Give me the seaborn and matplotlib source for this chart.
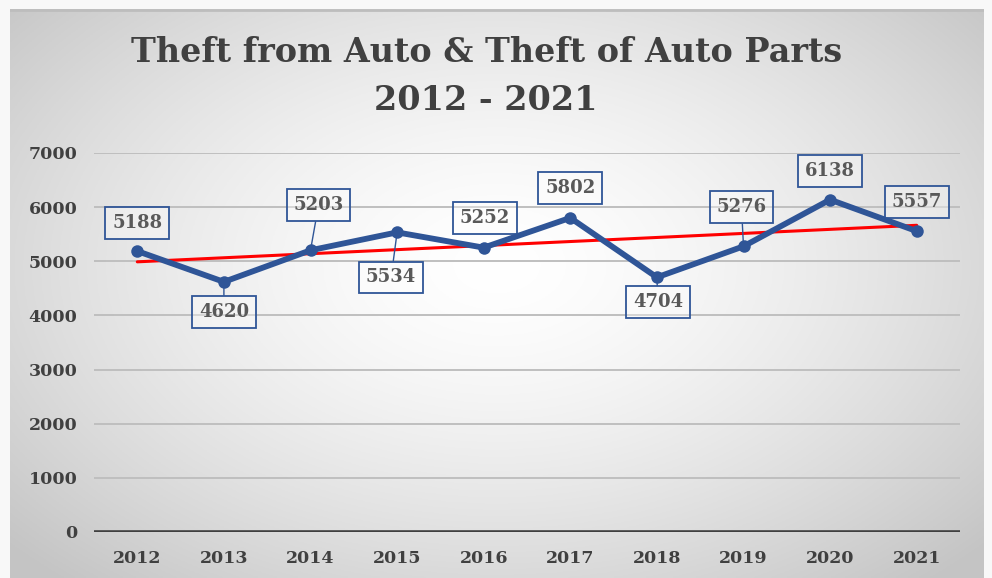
import numpy as np
import pandas as pd
import matplotlib
matplotlib.use("Agg")
import matplotlib.pyplot as plt
import seaborn as sns

# Yearly counts of theft from auto & theft of auto parts
years = ["2012", "2013", "2014", "2015", "2016", "2017", "2018", "2019", "2020", "2021"]
counts = [5188, 4620, 5203, 5534, 5252, 5802, 4704, 5276, 6138, 5557]

# label offsets (pixels) relative to each point, and whether a leader line is drawn
label_dx = [0, 0, 8, -6, 1, 0, 1, -2, 0, 0]
label_dy = [28, -30, 45, -45, 30, 30, -25, 39, 29, 29]
leader = [False, True, True, True, False, False, True, True, False, False]

df = pd.DataFrame({"year": years, "count": counts})
df["pos"] = np.arange(len(years))

sns.set_theme(style="white")
plt.rcParams["font.family"] = ["DejaVu Serif"]

W, H, DPI = 992, 578, 100
fig = plt.figure(figsize=(W / DPI, H / DPI), dpi=DPI)
fig.patch.set_facecolor("#f8f8f8")

# panel with radial gradient background
px0, px1, py0, py1 = 10 / W, 984 / W, 0.0, (H - 9) / H
bg = fig.add_axes([px0, py0, px1 - px0, py1 - py0], zorder=0)
gx, gy = np.meshgrid(np.linspace(-1, 1, 400), np.linspace(-1, 1, 240))
r = np.sqrt((gx / 1.0) ** 2 + ((gy - 0.1) / 1.1) ** 2)
r = np.clip(r / 1.35, 0, 1)
val = 1.0 - 0.23 * r ** 1.5
img = np.dstack([val, val, val])
bg.imshow(img, extent=[0, 1, 0, 1], aspect="auto", origin="lower")
bg.plot([0, 1], [0.998, 0.998], color="#bdbdbd", lw=2, transform=bg.transAxes)
bg.set_axis_off()

# plot area
ax0, ax1 = 94 / W, 960 / W
ay0, ay1 = (H - 532) / H, (H - 153) / H
ax = fig.add_axes([ax0, ay0, ax1 - ax0, ay1 - ay0], zorder=1)
ax.patch.set_alpha(0)

blue = "#2f5597"
gray_text = "#595959"
dark_text = "#404040"

# trendline (least squares fit)
slope, intercept = np.polyfit(df["pos"], df["count"], 1)
trend = intercept + slope * df["pos"]
ax.plot(df["pos"], trend, color="#ff0000", lw=2.2, zorder=3)

sns.lineplot(data=df, x="pos", y="count", ax=ax, color=blue, lw=4.2,
             marker="o", markersize=9, markeredgewidth=0, zorder=4)

ax.set_xlim(-0.5, len(years) - 0.5)
ax.set_ylim(0, 7000)
ax.set_yticks(np.arange(0, 7001, 1000))
ax.set_xticks(df["pos"])
ax.set_xticklabels(years)
ax.set_xlabel("")
ax.set_ylabel("")
for s in ax.spines.values():
    s.set_visible(False)
ax.yaxis.grid(True, color="#bfbfbf", lw=1.4)
ax.set_axisbelow(True)
ax.axhline(0, color="#404040", lw=2.6, zorder=2)
ax.tick_params(axis="both", length=0, labelsize=12.5, labelcolor=dark_text)
ax.tick_params(axis="y", pad=12)
ax.tick_params(axis="x", pad=13)
for lab in ax.get_xticklabels() + ax.get_yticklabels():
    lab.set_fontweight("bold")

# data labels
for i, (x, y) in enumerate(zip(df["pos"], df["count"])):
    ap = dict(arrowstyle="-", color=blue, lw=1.0, shrinkA=0, shrinkB=0) if leader[i] else None
    ax.annotate(f"{y}", xy=(x, y), xytext=(label_dx[i], label_dy[i]),
                textcoords="offset pixels", ha="center", va="center",
                fontsize=13, fontweight="bold", color=gray_text,
                bbox=dict(boxstyle="square,pad=0.38", fc=(1, 1, 1, 0.35), ec=blue, lw=1.3),
                arrowprops=ap, zorder=5)

fig.text(0.49, (H - 52) / H, "Theft from Auto & Theft of Auto Parts",
         ha="center", va="center", fontsize=24, fontweight="bold", color=dark_text)
fig.text(0.49, (H - 101) / H, "2012 - 2021",
         ha="center", va="center", fontsize=24, fontweight="bold", color=dark_text)

fig.savefig("out.png", dpi=DPI)
